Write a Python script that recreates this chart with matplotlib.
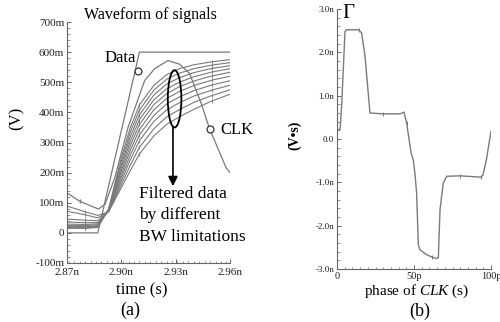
import numpy as np
import matplotlib
matplotlib.use("Agg")
import matplotlib.pyplot as plt
from matplotlib.patches import Ellipse
from matplotlib.ticker import MultipleLocator

plt.rcParams['font.family'] = ['Liberation Serif', 'DejaVu Serif']
plt.rcParams['mathtext.fontset'] = 'custom'
plt.rcParams['mathtext.it'] = 'Liberation Serif:italic'
plt.rcParams['mathtext.rm'] = 'Liberation Serif'

# ---- panel (a): waveforms, time in ns, voltage in V
data_t = [2.870, 2.887, 2.910, 2.960]
data_v = [0.0, 0.0, 0.600, 0.600]

clk_t = [2.870, 2.877, 2.8874, 2.891, 2.8964, 2.9037, 2.9129, 2.9184, 2.9257,
         2.9322, 2.9377, 2.9441, 2.9487, 2.9578, 2.960]
clk_v = [0.133, 0.105, 0.079, 0.095, 0.183, 0.350, 0.506, 0.545, 0.572,
         0.560, 0.529, 0.430, 0.346, 0.217, 0.200]

filt_t = [2.870, 2.880, 2.887, 2.893, 2.900, 2.905, 2.910, 2.918, 2.925,
          2.932, 2.940, 2.950, 2.960]
filt_v = [
    [0.015, 0.015, 0.018, 0.080, 0.250, 0.350, 0.425, 0.490, 0.525, 0.545, 0.558, 0.568, 0.575],
    [0.017, 0.017, 0.020, 0.078, 0.238, 0.335, 0.408, 0.474, 0.510, 0.530, 0.545, 0.557, 0.565],
    [0.019, 0.019, 0.022, 0.077, 0.227, 0.320, 0.392, 0.458, 0.494, 0.515, 0.532, 0.546, 0.555],
    [0.021, 0.021, 0.024, 0.076, 0.216, 0.305, 0.376, 0.442, 0.478, 0.500, 0.518, 0.534, 0.545],
    [0.024, 0.024, 0.027, 0.075, 0.205, 0.290, 0.360, 0.426, 0.462, 0.485, 0.504, 0.521, 0.533],
    [0.029, 0.028, 0.030, 0.074, 0.194, 0.275, 0.343, 0.409, 0.446, 0.469, 0.489, 0.507, 0.520],
    [0.036, 0.034, 0.034, 0.073, 0.183, 0.259, 0.325, 0.390, 0.428, 0.451, 0.472, 0.491, 0.505],
    [0.046, 0.042, 0.040, 0.072, 0.172, 0.243, 0.306, 0.370, 0.408, 0.432, 0.454, 0.474, 0.490],
    [0.072, 0.060, 0.050, 0.071, 0.161, 0.225, 0.284, 0.346, 0.385, 0.409, 0.433, 0.456, 0.475],
    [0.089, 0.070, 0.058, 0.070, 0.150, 0.207, 0.262, 0.322, 0.360, 0.385, 0.410, 0.438, 0.460],
]

a_xticks = [2.87, 2.90, 2.93, 2.96]
a_xlabels = ['2.87n', '2.90n', '2.93n', '2.96n']
a_yticks = [-0.1, 0.0, 0.1, 0.2, 0.3, 0.4, 0.5, 0.6, 0.7]
a_ylabels = ['-100m', '0', '100m', '200m', '300m', '400m', '500m', '600m', '700m']

# ---- panel (b): Gamma vs clock phase, phase in ps, value in nV*s
gam_p = [0, 2, 3, 5.2, 6, 14, 16, 18.2, 21.4, 30, 41, 43.5, 45.2, 48.1, 49.5,
         50.6, 51.7, 52.8, 53.9, 58.2, 62, 64.7, 65.8, 66.9, 69, 71.2, 80,
         93.5, 94.8, 97, 100]
gam_v = [0.21, 0.22, 0.75, 2.48, 2.52, 2.52, 2.45, 1.91, 0.60, 0.58, 0.58,
         0.62, 0.37, -0.32, -0.48, -0.79, -1.25, -2.44, -2.56, -2.67, -2.73,
         -2.76, -2.74, -1.63, -1.02, -0.86, -0.85, -0.88, -0.83, -0.48, 0.18]

b_xticks = [0, 50, 100]
b_xlabels = ['0', '50p', '100p']
b_yticks = [-3, -2, -1, 0, 1, 2, 3]
b_ylabels = ['-3.0n', '-2.0n', '-1.0n', '0.0', '1.0n', '2.0n', '3.0n']

W, H = 500, 322
fig = plt.figure(figsize=(5.0, 3.22), dpi=100)
line_c = '#7a7a7a'
axis_c = '#666666'


def style_axes(ax, fs):
    for s in ['top', 'right']:
        ax.spines[s].set_visible(False)
    for s in ['left', 'bottom']:
        ax.spines[s].set_color(axis_c)
        ax.spines[s].set_linewidth(0.8)
    ax.tick_params(which='both', direction='in', color=axis_c, labelsize=fs,
                   labelcolor='#222222', pad=2)
    ax.tick_params(which='major', length=3, width=0.7)
    ax.tick_params(which='minor', length=1.8, width=0.5)
    ax.tick_params(axis='x', pad=3.5)


# panel (a)
axa = fig.add_axes([67 / W, 1 - 263 / H, 163 / W, 241 / H])
axa.plot(data_t, data_v, color=line_c, lw=0.9)
axa.plot(clk_t, clk_v, color=line_c, lw=0.9, marker='|', ms=3, markevery=[1, 12])
for v in filt_v:
    axa.plot(filt_t, v, color=line_c, lw=0.8, marker='|', ms=2.5, mew=0.6,
             markevery=[1, 6, 11])
axa.set_xlim(2.87, 2.96)
axa.set_ylim(-0.1, 0.7)
axa.set_xticks(a_xticks)
axa.set_xticklabels(a_xlabels)
axa.set_yticks(a_yticks)
axa.set_yticklabels(a_ylabels)
axa.xaxis.set_minor_locator(MultipleLocator(0.003))
axa.yaxis.set_minor_locator(MultipleLocator(0.02))
style_axes(axa, 8)

# label markers, ellipse, arrow
axa.plot([2.9092], [0.539], 'o', mfc='white', mec='#333333', ms=5, mew=0.9, zorder=5)
axa.plot([2.9487], [0.346], 'o', mfc='white', mec='#333333', ms=5, mew=0.9, zorder=5)
axa.text(2.8992, 0.579, 'Data', ha='center', va='center', fontsize=12)
axa.text(2.9545, 0.342, 'CLK', ha='left', va='center', fontsize=12, clip_on=False)
axa.add_patch(Ellipse((2.9294, 0.445), 0.0075, 0.19, fill=False, ec='black',
                      lw=1.3, zorder=6))
axa.annotate('', xy=(2.9285, 0.155), xytext=(2.9285, 0.35),
             arrowprops=dict(arrowstyle='-|>', color='black', lw=1.2,
                             mutation_scale=14, shrinkA=0, shrinkB=0))
axa.text(2.9095, 0.128, 'Filtered data', ha='left', va='center', fontsize=12.5)
axa.text(2.9095, 0.058, 'by different', ha='left', va='center', fontsize=12.5)
axa.text(2.9095, -0.014, 'BW limitations', ha='left', va='center', fontsize=12.5)

fig.text(150 / W, 1 - 15 / H, 'Waveform of signals', ha='center', va='center', fontsize=11.5)
fig.text(17 / W, 1 - 118 / H, '(V)', ha='center', va='center', rotation=90, fontsize=12)
fig.text(142 / W, 1 - 290 / H, 'time (s)', ha='center', va='center', fontsize=12)
fig.text(130 / W, 1 - 310 / H, '(a)', ha='center', va='center', fontsize=13)

# panel (b)
axb = fig.add_axes([337 / W, 1 - 269 / H, 154 / W, 260 / H])
axb.plot(gam_p, gam_v, color=line_c, lw=1.0, marker='|', ms=3, mew=0.7,
         markevery=[5, 9, 12, 20, 26, 27])
axb.set_xlim(0, 100)
axb.set_ylim(-3, 3)
axb.set_xticks(b_xticks)
axb.set_xticklabels(b_xlabels)
axb.set_yticks(b_yticks)
axb.set_yticklabels(b_ylabels)
axb.xaxis.set_minor_locator(MultipleLocator(5))
axb.yaxis.set_minor_locator(MultipleLocator(0.2))
style_axes(axb, 6.5)
axb.tick_params(axis='x', labelsize=7.5, pad=2.5)

fig.text(348 / W, 1 - 14 / H, '\u0393', ha='center', va='center', fontsize=15)
fig.text(295 / W, 1 - 135 / H, '(V\u2022s)', ha='center', va='center',
         rotation=90, fontsize=10, fontweight='bold')
fig.text(417 / W, 1 - 291 / H, 'phase of $\\mathit{CLK}$ (s)', ha='center',
         va='center', fontsize=11)
fig.text(420 / W, 1 - 311 / H, '(b)', ha='center', va='center', fontsize=13)

fig.savefig('out.png', dpi=100, facecolor='white')
